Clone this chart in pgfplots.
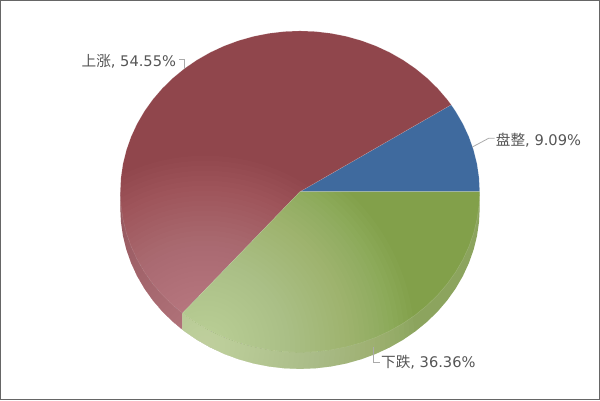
\documentclass[border=0pt]{standalone}
\usepackage{pgfplots}
\usepackage{fontspec}
\pgfplotsset{compat=1.18}
\setmainfont{DejaVu Sans}
\newfontfamily\cjk{Noto Sans CJK SC}
\definecolor{cblue}{HTML}{3F6A9E}
\definecolor{cred}{HTML}{90464C}
\definecolor{cgreen}{HTML}{82A04A}
\definecolor{credside}{HTML}{8F4A4F}
\definecolor{cgreenside}{HTML}{8CA45E}
\definecolor{ctxt}{HTML}{555555}
\definecolor{cline}{HTML}{AAAAAA}
\definecolor{cframe}{HTML}{666666}
\definecolor{cpink}{HTML}{F2BCC6}
\definecolor{cpale}{HTML}{E6F2CE}
\tikzset{
  glow/.style n args={3}{path picture={
    \pgfsetfillcolor{#1}\pgfsetfillopacity{#2}%
    \foreach \r in {5,10,...,#3}{%
      \pgfpathcircle{\pgfplotspointaxisxy{205}{345}}{\r*0.75pt}%
      \pgfusepath{fill}%
    }%
  }}
}
\begin{document}
\begin{tikzpicture}
\begin{axis}[
  scale only axis,width=450pt,height=300pt,
  xmin=0,xmax=600,ymin=-0.5,ymax=399.5,y dir=reverse,
  ticks=none,axis line style={draw=cframe,line width=0.75pt},
  every axis plot/.append style={mark=none}
]
% side walls
\addplot[fill=credside,draw=none,glow={cpink}{0.018}{190}] coordinates {
(120,191)(120,207.5)(120.69,221.53)(122.73,235.46)(126.13,249.17)(130.86,262.57)(136.86,275.54)(144.12,288)(152.55,299.85)(162.11,310.99)(172.72,321.34)(182.17,329.2)(182.17,312.7)} -- cycle;
\addplot[fill=cgreenside,draw=none,glow={cpale}{0.026}{210}] coordinates {
(182.17,312.7)(182.17,329.2)(184.30,330.83)(196.76,339.38)(210,346.93)(223.93,353.42)(238.44,358.79)(253.41,363.01)(268.74,366.05)(284.31,367.89)(300,368.5)(315.69,367.89)(331.26,366.05)(346.59,363.01)(361.56,358.79)(376.07,353.42)(390,346.93)(403.24,339.38)(415.7,330.83)(427.28,321.34)(437.89,310.99)(447.45,299.85)(455.88,288)(463.14,275.54)(469.14,262.57)(473.87,249.17)(477.27,235.46)(479.31,221.53)(480,207.5)(480,191)} -- cycle;
% faces
\addplot[fill=cblue,draw=white,draw opacity=0.25,line width=0.3pt] coordinates {
(300,191)(480,191)(479.31,176.97)(477.27,163.04)(473.87,149.33)(469.14,135.93)(463.14,122.96)(455.88,110.5)(451.4,103.95)} -- cycle;
\addplot[fill=cred,draw=white,draw opacity=0.2,line width=0.3pt,glow={cpink}{0.025}{190}] coordinates {
(300,191)(451.4,103.95)(447.45,98.65)(437.89,87.51)(427.28,77.16)(415.70,67.67)(403.24,59.12)(390,51.57)(376.07,45.08)(361.56,39.71)(346.59,35.49)(331.26,32.45)(315.69,30.61)(300,30)(284.31,30.61)(268.74,32.45)(253.41,35.49)(238.44,39.71)(223.93,45.08)(210,51.57)(196.76,59.12)(184.30,67.67)(172.72,77.16)(162.11,87.51)(152.55,98.65)(144.12,110.5)(136.86,122.96)(130.86,135.93)(126.13,149.33)(122.73,163.04)(120.69,176.97)(120,191)(120.69,205.03)(122.73,218.96)(126.13,232.67)(130.86,246.07)(136.86,259.04)(144.12,271.5)(152.55,283.35)(162.11,294.49)(172.72,304.84)(182.17,312.7)} -- cycle;
\addplot[fill=cgreen,draw=white,draw opacity=0.2,line width=0.3pt,glow={cpale}{0.028}{210}] coordinates {
(300,191)(182.17,312.7)(184.30,314.33)(196.76,322.88)(210,330.43)(223.93,336.92)(238.44,342.29)(253.41,346.51)(268.74,349.55)(284.31,351.39)(300,352)(315.69,351.39)(331.26,349.55)(346.59,346.51)(361.56,342.29)(376.07,336.92)(390,330.43)(403.24,322.88)(415.70,314.33)(427.28,304.84)(437.89,294.49)(447.45,283.35)(455.88,271.5)(463.14,259.04)(469.14,246.07)(473.87,232.67)(477.27,218.96)(479.31,205.03)(480,191)} -- cycle;
% leaders
\addplot[draw=cline,line width=0.6pt] coordinates {(179,58.5)(184,58.5)(184,68.5)};
\addplot[draw=cline,line width=0.6pt] coordinates {(472.7,146.2)(489,137.5)(495,137.5)};
\addplot[draw=cline,line width=0.6pt] coordinates {(374,346.5)(374,361.5)(380,361.5)};
% labels
\node[anchor=base west,inner sep=0pt,text=ctxt,font=\fontsize{11pt}{12pt}\selectfont] at (axis cs:81,65.5) {{\cjk 上涨}, 54.55\%};
\node[anchor=base west,inner sep=0pt,text=ctxt,font=\fontsize{11pt}{12pt}\selectfont] at (axis cs:496,144.5) {{\cjk 盘整}, 9.09\%};
\node[anchor=base west,inner sep=0pt,text=ctxt,font=\fontsize{11pt}{12pt}\selectfont] at (axis cs:381,367.5) {{\cjk 下跌}, 36.36\%};
\end{axis}
\end{tikzpicture}
\end{document}
